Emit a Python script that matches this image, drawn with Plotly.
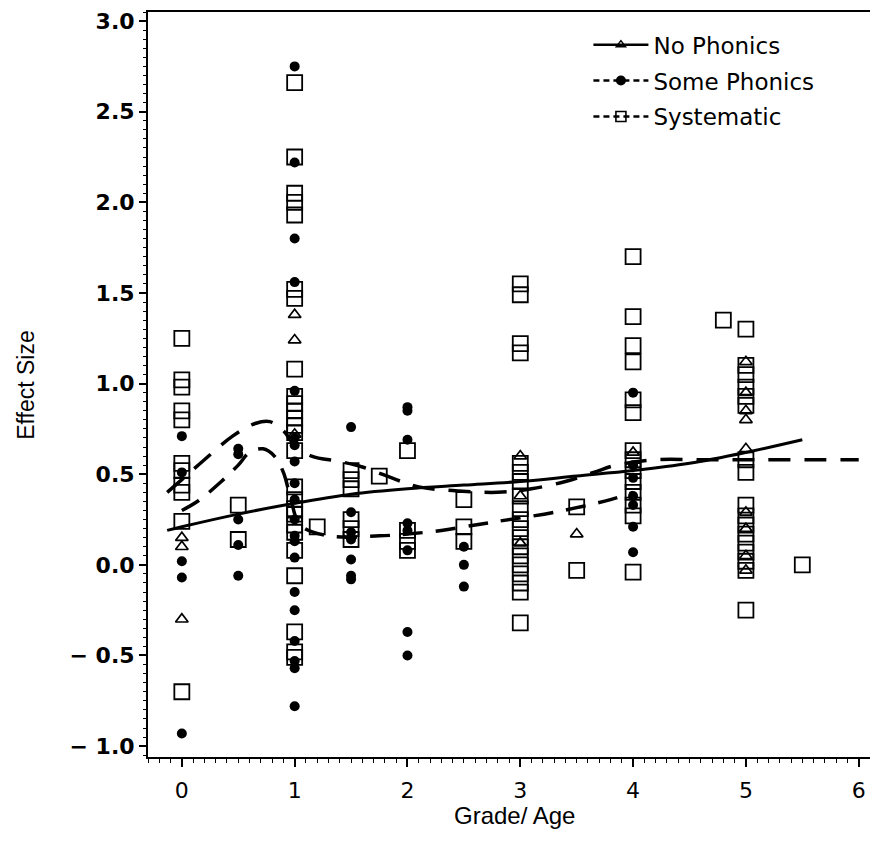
import plotly.graph_objects as go

# ---- scatter data (Grade/Age, Effect Size) ----
no_x = [0, 0, 0, 1, 1, 1, 3, 3, 3, 3.5, 4, 5, 5, 5, 5, 5, 5, 5, 5, 5]
no_y = [0.15, 0.10, -0.30, 1.38, 1.24, 0.72, 0.60, 0.38, 0.12, 0.17, 0.62,
        1.12, 0.95, 0.85, 0.80, 0.64, 0.29, 0.20, 0.05, -0.03]

some_x = [0, 0, 0, 0, 0,
          0.5, 0.5, 0.5, 0.5, 0.5,
          1, 1, 1, 1, 1, 1, 1, 1, 1, 1, 1, 1, 1, 1, 1, 1, 1, 1, 1, 1,
          1.5, 1.5, 1.5, 1.5, 1.5, 1.5, 1.5,
          2, 2, 2, 2, 2, 2, 2, 2,
          2.5, 2.5, 2.5,
          4, 4, 4, 4, 4, 4, 4]
some_y = [0.71, 0.51, 0.02, -0.07, -0.93,
          0.64, 0.61, 0.25, 0.11, -0.06,
          2.75, 2.22, 1.80, 1.56, 0.96, 0.70, 0.66, 0.57, 0.45, 0.36, 0.25, 0.16,
          0.13, 0.04, -0.15, -0.25, -0.42, -0.53, -0.57, -0.78,
          0.76, 0.29, 0.18, 0.14, 0.03, -0.06, -0.08,
          0.87, 0.85, 0.69, 0.23, 0.19, 0.08, -0.37, -0.50,
          0.10, 0.00, -0.12,
          0.95, 0.55, 0.48, 0.38, 0.33, 0.21, 0.07]

sys_x = [0] * 11 + [0.5] * 2 + [1] * 26 + [1.2] + [1.5] * 6 + [1.75] + [2] * 4 + [2.5] * 3 \
    + [3] * 19 + [3.5] * 2 + [4] * 14 + [4.8] + [5] * 17 + [5.5]
sys_y = [1.25, 1.02, 0.98, 0.85, 0.80, 0.56, 0.52, 0.44, 0.40, 0.24, -0.70,
         0.33, 0.14,
         2.66, 2.25, 2.05, 2.00, 1.93, 1.52, 1.47, 1.08, 0.93, 0.89, 0.85, 0.81, 0.77,
         0.73, 0.63, 0.43, 0.36, 0.31, 0.28, 0.22, 0.18, 0.08, -0.06, -0.37, -0.48, -0.51,
         0.21,
         0.52, 0.47, 0.42, 0.25, 0.20, 0.14,
         0.49,
         0.63, 0.19, 0.13, 0.08,
         0.36, 0.21, 0.13,
         1.55, 1.49, 1.22, 1.17, 0.56, 0.51, 0.46, 0.38, 0.31, 0.25, 0.20, 0.15, 0.10,
         0.05, 0.00, -0.05, -0.10, -0.15, -0.32,
         0.32, -0.03,
         1.70, 1.37, 1.21, 1.12, 0.91, 0.84, 0.63, 0.58, 0.52, 0.46, 0.40, 0.33, 0.27, -0.04,
         1.35,
         1.30, 1.10, 1.05, 0.98, 0.93, 0.88, 0.58, 0.51, 0.33, 0.27, 0.22, 0.17, 0.12,
         0.07, 0.02, -0.03, -0.25,
         0.00]

# ---- smoothed curves ----
no_fit_x = [-0.13, 0, 0.5, 1, 1.5, 2, 2.5, 3, 3.5, 4, 4.5, 5, 5.5]
no_fit_y = [0.19, 0.21, 0.28, 0.34, 0.39, 0.42, 0.44, 0.46, 0.49, 0.52, 0.56, 0.62, 0.69]

some_fit_x = [0.0, 0.15, 0.35, 0.5, 0.6, 0.72, 0.82, 0.9, 0.96, 1.05, 1.3, 1.75, 2.0,
              2.3, 2.6, 2.8, 3.3, 3.8, 4.0]
some_fit_y = [0.30, 0.355, 0.46, 0.55, 0.62, 0.64, 0.60, 0.51, 0.38, 0.22, 0.16, 0.16,
              0.17, 0.19, 0.22, 0.24, 0.29, 0.36, 0.40]

sys_fit_x = [-0.13, 0.0, 0.2, 0.45, 0.65, 0.78, 0.9, 1.0, 1.15, 1.4, 1.6, 1.9, 2.1,
             2.4, 2.8, 3.1, 3.4, 3.65, 3.85, 4.2, 4.6, 5.0, 6.0]
sys_fit_y = [0.40, 0.47, 0.58, 0.71, 0.78, 0.79, 0.74, 0.66, 0.60, 0.57, 0.54, 0.47,
             0.43, 0.41, 0.40, 0.42, 0.46, 0.51, 0.55, 0.58, 0.58, 0.58, 0.58]

names = ["No Phonics", "Some Phonics", "Systematic"]

BLACK = "black"
fig = go.Figure()

fig.add_trace(go.Scatter(x=sys_x, y=sys_y, mode="markers", showlegend=False,
                         marker=dict(symbol="square-open", size=15, color=BLACK,
                                     line=dict(width=1.8, color=BLACK))))
fig.add_trace(go.Scatter(x=no_x, y=no_y, mode="markers", showlegend=False,
                         marker=dict(symbol="triangle-up-open", size=11, color=BLACK,
                                     line=dict(width=1.7, color=BLACK))))
fig.add_trace(go.Scatter(x=some_x, y=some_y, mode="markers", showlegend=False,
                         marker=dict(symbol="circle", size=10, color=BLACK)))

fig.add_trace(go.Scatter(x=no_fit_x, y=no_fit_y, mode="lines", showlegend=False,
                         line=dict(color=BLACK, width=3, shape="spline")))
fig.add_trace(go.Scatter(x=some_fit_x, y=some_fit_y, mode="lines", showlegend=False,
                         line=dict(color=BLACK, width=3.5, shape="spline", dash="20px,13px")))
fig.add_trace(go.Scatter(x=sys_fit_x, y=sys_fit_y, mode="lines", showlegend=False,
                         line=dict(color=BLACK, width=3.5, shape="spline", dash="22px,14px")))

# legend entries
fig.add_trace(go.Scatter(x=[None], y=[None], mode="lines+markers", name=names[0],
                         legendgroup="a",
                         line=dict(color=BLACK, width=2.5),
                         marker=dict(symbol="triangle-up-open", size=8, color=BLACK,
                                     line=dict(width=1.5, color=BLACK))))
fig.add_trace(go.Scatter(x=[None], y=[None], mode="lines+markers", name=names[1],
                         legendgroup="b",
                         line=dict(color=BLACK, width=2.5, dash="6px,4px"),
                         marker=dict(symbol="circle", size=10, color=BLACK)))
fig.add_trace(go.Scatter(x=[None], y=[None], mode="lines+markers", name=names[2],
                         legendgroup="c",
                         line=dict(color=BLACK, width=2.5, dash="6px,4px"),
                         marker=dict(symbol="square-open", size=10, color=BLACK,
                                     line=dict(width=1.6, color=BLACK))))

yfont = dict(family="DejaVu Sans, Verdana, sans-serif", size=22, color=BLACK, weight="bold")
xfont = dict(family="DejaVu Sans, Verdana, sans-serif", size=22, color=BLACK)

# page body has an 8px margin: figure is sized/offset to compensate
fig.update_layout(
    width=870, height=852,
    paper_bgcolor="white", plot_bgcolor="white",
    margin=dict(l=140, r=8, t=2, b=103),
    showlegend=True,
    legend=dict(x=0.61, y=0.985, xanchor="left", yanchor="top",
                font=dict(family="DejaVu Sans, Verdana, sans-serif", size=23, color=BLACK),
                bgcolor="rgba(0,0,0,0)", itemwidth=55, tracegroupgap=3,
                itemclick=False),
    xaxis=dict(range=[-0.30, 6.1], tickmode="array", tickvals=[0, 1, 2, 3, 4, 5, 6],
               ticktext=["0", "1", "2", "3", "4", "5", "6"],
               ticks="outside", ticklen=8, tickwidth=1.5, tickcolor=BLACK,
               showline=True, linecolor=BLACK, linewidth=2, mirror=True,
               showgrid=False, zeroline=False, tickfont=xfont,
               ticklabelstandoff=5,
               minor=dict(dtick=0.1, tick0=0, ticks="outside", ticklen=4,
                          tickwidth=1, tickcolor=BLACK, showgrid=False)),
    yaxis=dict(range=[-1.06, 3.05], tickmode="array",
               tickvals=[-1.0, -0.5, 0.0, 0.5, 1.0, 1.5, 2.0, 2.5, 3.0],
               ticktext=["\u2212 1.0", "\u2212 0.5", "0.0", "0.5", "1.0", "1.5", "2.0", "2.5", "3.0"],
               ticks="outside", ticklen=7, tickwidth=1.5, tickcolor=BLACK,
               showline=True, linecolor=BLACK, linewidth=2, mirror=True,
               showgrid=False, zeroline=False, tickfont=yfont,
               minor=dict(dtick=0.05, tick0=0, ticks="outside", ticklen=3,
                          tickwidth=1, tickcolor=BLACK, showgrid=False)),
    annotations=[
        dict(text="Grade/ Age", x=0.508, y=-0.078, xref="paper", yref="paper",
             showarrow=False, xanchor="center", yanchor="middle",
             font=dict(family="Liberation Sans Narrow, Liberation Sans, Arial", size=24, color=BLACK)),
        dict(text="Effect Size", x=-0.170, y=0.50, xref="paper", yref="paper",
             showarrow=False, xanchor="center", yanchor="middle", textangle=-90,
             font=dict(family="Liberation Sans Narrow, Liberation Sans, Arial", size=23, color=BLACK)),
    ],
)

fig.write_html("out.html")
